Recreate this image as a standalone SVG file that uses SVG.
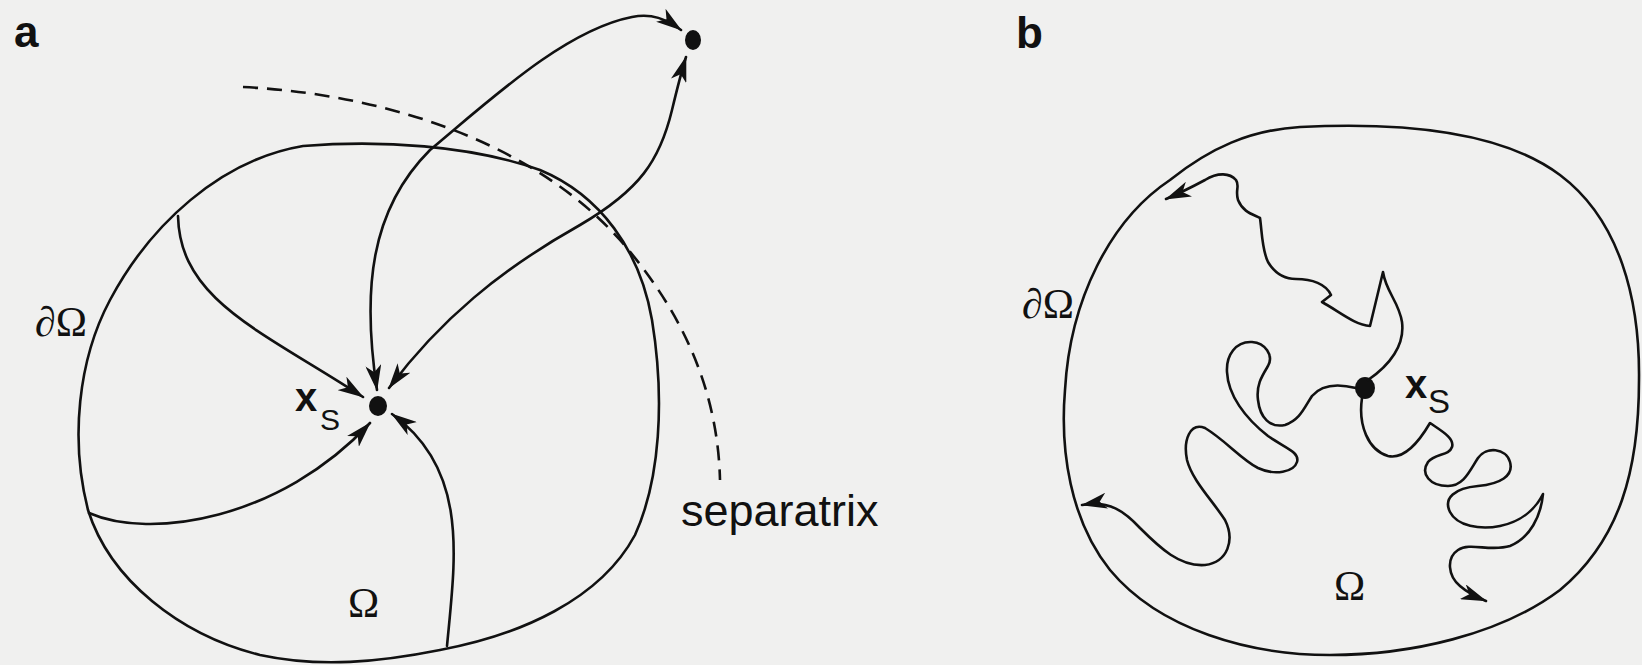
<svg xmlns="http://www.w3.org/2000/svg" width="1642" height="665" viewBox="0 0 1642 665">
<defs>
<style>
.ln{fill:none;stroke:#111;stroke-width:2.6;stroke-linecap:round;stroke-linejoin:round}
.ar{marker-end:url(#ah)}
.ar2{marker-start:url(#ah);marker-end:url(#ah)}
.dash{fill:none;stroke:#111;stroke-width:2.6;stroke-dasharray:15 9}
.lbl{font-family:"Liberation Sans",Arial,sans-serif;font-weight:bold;fill:#111}
.sub{font-family:"Liberation Sans",Arial,sans-serif;fill:#111}
.gr{font-family:"Liberation Serif","Times New Roman",serif;fill:#111}
.dot{fill:#111}
</style>
<marker id="ah" viewBox="0 0 26 16" refX="25" refY="8" markerWidth="26" markerHeight="16" markerUnits="userSpaceOnUse" orient="auto-start-reverse">
<path d="M0,0 L26,8 L0,16 L7,8 Z" fill="#111"/>
</marker>
</defs>
<rect width="1642" height="665" fill="#f0f0ef"/>

<g id="panel-a">
<text class="lbl" x="14" y="47" font-size="44">a</text>
<g id="a-boundary">
<path class="ln" d="M303,146 C380,140 470,145 540,170 C600,195 640,250 652,320 C665,400 660,480 635,535 C600,600 520,635 440,650 C380,662 320,668 260,655 C180,635 110,580 88,510 C70,440 78,360 110,300 C150,225 220,160 303,146 Z"/>
</g>
<g id="a-separatrix">
<path class="dash" d="M243,87 C400,95 540,150 620,240 C690,320 718,400 720,480"/>
<text class="sub" x="681" y="526" font-size="45">separatrix</text>
</g>
<g id="a-xs">
<ellipse class="dot" cx="378" cy="406" rx="9" ry="10"/>
<text class="lbl" x="295" y="411" font-size="40">x</text>
<text class="sub" x="320" y="430" font-size="30">S</text>
</g>
<g id="a-attractor">
<ellipse class="dot" cx="693" cy="40" rx="8" ry="10"/>
</g>
<g id="a-labels">
<text class="gr" x="35" y="336" font-size="42">∂Ω</text>
<text class="gr" x="348" y="617" font-size="42">Ω</text>
</g>
<g id="a-connectors">
<path class="ln ar" d="M178,216 C180,300 260,330 363,397"/>
<path class="ln ar" d="M89,513 C150,540 280,520 370,423"/>
<path class="ln ar" d="M447,646 C455,560 470,470 392,414"/>
<path class="ln ar2" d="M377,390 C362,290 370,210 430,150 C490,100 565,30 632,17 C652,13 666,19 681,30"/>
<path class="ln ar2" d="M389,388 C440,320 500,270 580,225 C640,190 660,160 672,110 C678,85 682,70 686,57"/>
</g>
</g>

<g id="panel-b">
<text class="lbl" x="1016" y="48" font-size="44">b</text>
<g id="b-boundary">
<path class="ln" d="M1300,127 C1400,122 1500,130 1560,175 C1620,220 1640,300 1639,380 C1639,470 1620,540 1560,590 C1500,635 1410,655 1330,655 C1250,655 1160,630 1110,570 C1070,520 1060,450 1065,390 C1070,300 1110,220 1170,180 C1210,148 1250,130 1300,127 Z"/>
</g>
<g id="b-xs">
<ellipse class="dot" cx="1365" cy="388" rx="10" ry="11"/>
<text class="lbl" x="1405" y="398" font-size="40">x</text>
<text class="sub" x="1428" y="413" font-size="33">S</text>
</g>
<g id="b-labels">
<text class="gr" x="1022" y="318" font-size="42">∂Ω</text>
<text class="gr" x="1334" y="600" font-size="42">Ω</text>
</g>
<g id="b-connectors">
<path class="ln ar" d="M1368,380 C1390,365 1405,345 1402,322 C1399,302 1386,292 1383,272 L1370,326 C1355,325 1340,312 1322,302 L1331,295 C1326,284 1312,279 1296,279 C1282,279 1274,272 1268,262 C1262,250 1262,232 1260,218 C1252,214 1243,212 1238,200 C1235,190 1240,186 1236,180 C1230,173 1218,172 1205,180 C1192,187 1180,193 1166,199"/>
<path class="ln ar" d="M1356,388 C1340,384 1322,384 1312,396 C1304,408 1300,420 1285,425 C1270,428 1260,418 1258,400 C1256,385 1262,376 1268,366 C1274,355 1265,343 1252,342 C1236,341 1226,355 1227,372 C1228,395 1245,418 1268,436 C1285,448 1300,452 1297,462 C1294,472 1275,476 1258,468 C1242,460 1225,440 1205,428 C1190,422 1183,440 1187,460 C1192,480 1212,500 1225,520 C1235,540 1228,562 1205,565 C1180,567 1160,548 1140,528 C1125,512 1110,500 1082,505"/>
<path class="ln ar" d="M1362,398 C1358,425 1368,450 1388,456 C1405,460 1420,440 1430,423 C1440,430 1455,438 1452,447 C1449,456 1435,453 1428,462 C1420,474 1430,486 1448,486 C1464,486 1470,470 1478,458 C1486,446 1506,448 1510,462 C1514,476 1500,484 1478,486 C1455,488 1443,498 1450,512 C1457,526 1480,530 1500,526 C1520,522 1535,510 1543,494 C1541,516 1530,538 1510,546 C1490,552 1470,542 1458,550 C1446,558 1448,576 1460,586 C1468,593 1476,597 1486,601"/>
</g>
</g>
</svg>
